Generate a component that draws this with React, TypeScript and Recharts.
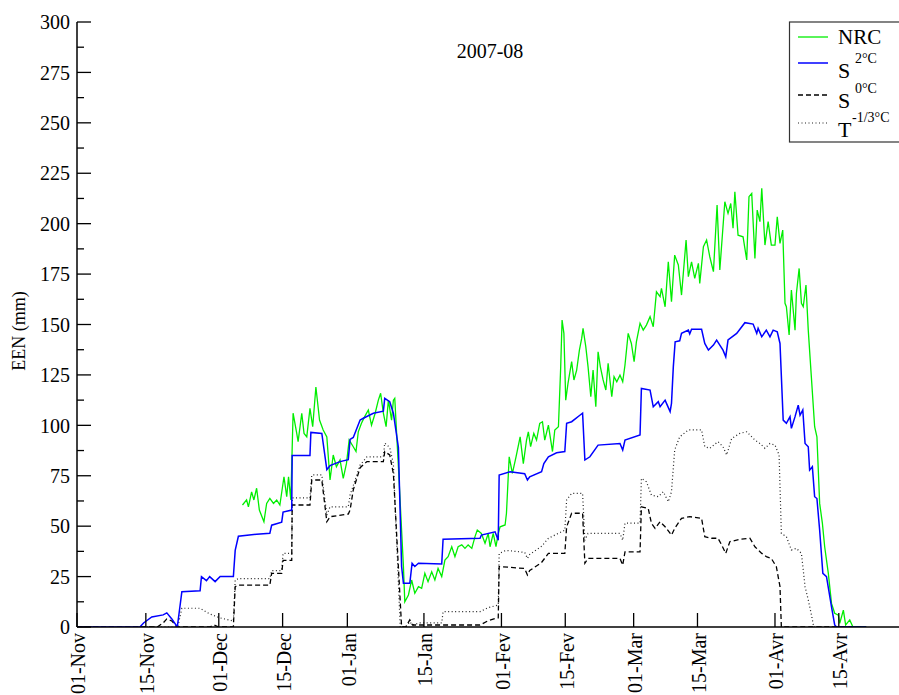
import React from 'react';
import { LineChart, Line, XAxis, YAxis } from 'recharts';

// x values are days counted from 01-Nov-2007
const X_TICK_DAYS = [-1.1, 14, 30, 44, 58.2, 75, 92, 106, 121, 135, 152, 166];
const X_TICK_LABELS = ['01-Nov', '15-Nov', '01-Dec', '15-Dec', '01-Jan', '15-Jan', '01-Fev', '15-Fev', '01-Mar', '15-Mar', '01-Avr', '15-Avr'];
const Y_TICKS = [0, 12.5, 25, 37.5, 50, 62.5, 75, 87.5, 100, 112.5, 125, 137.5, 150, 162.5, 175, 187.5, 200, 212.5, 225, 237.5, 250, 262.5, 275, 287.5, 300];
const Y_MAJOR_TICKS = [0, 25, 50, 75, 100, 125, 150, 175, 200, 225, 250, 275, 300];
const TITLE = '2007-08';
const Y_LABEL = 'EEN (mm)';

const NRC: [number, number][] = [
  [35.2, 60.5], [36.1, 63], [36.5, 59.6], [37.2, 67], [37.7, 63], [38.3, 68.8], [38.9, 58], [39.9, 52.2], [40.5, 61.3], [41.2, 63.8], [42, 61.3], [42.7, 63], [43.4, 60.5], [44.3, 74.5], [44.9, 64.6], [45.3, 74.5], [45.8, 63],
  [46.3, 106], [47.1, 96], [47.4, 91.9], [48.2, 106], [48.7, 96], [49.3, 94.3], [50, 108.4], [50.6, 99.3], [51.3, 119], [52.1, 102.6], [52.9, 97.7], [53.7, 94.3], [54.4, 72.9], [55.1, 85.3], [55.8, 79.5], [56.6, 82.8], [57.3, 73.7], [58, 81],
  [58.6, 92.7], [59.5, 89.4], [60.1, 87], [60.6, 96.8], [61.3, 101], [62, 104.3], [62.8, 107.6], [63.5, 100.1], [64.3, 106], [65, 112.5], [65.5, 115.9], [66.1, 106], [66.7, 99.3], [67.2, 112.5], [67.9, 102.6], [68.3, 112.5], [68.6, 113.4],
  [69.4, 79.5], [70.5, 30], [70.8, 12.5], [71.6, 15.9], [72.3, 23.3], [73, 16.7], [73.8, 20], [74.5, 19.2], [75.2, 26.6], [75.9, 22.5], [76.7, 27.4], [77.4, 23.3], [78.1, 29], [78.9, 25], [79.6, 33.2], [80.3, 34.9], [81.1, 39.8],
  [81.8, 34.9], [82.5, 39.8], [83.3, 40.7], [84, 39], [84.7, 40.7], [85.5, 39], [86.2, 44.8], [86.7, 48.1], [87.6, 46.4], [88.4, 41.5], [89.1, 46.4], [89.5, 39.8], [90.2, 46.4], [90.8, 39.8], [91.3, 46.4], [91.7, 49.7], [92.8, 50.6],
  [93.1, 56.4], [93.7, 84.4], [94.4, 76.2], [95.2, 84.4], [96.1, 94.3], [96.8, 81], [97.5, 92.7], [97.9, 96.8], [98.4, 89.4], [99.1, 96], [99.7, 92.7], [100.4, 101], [101, 101.8], [101.5, 92.7], [102.3, 100.1], [103.2, 87], [103.7, 97.7],
  [104.5, 99.3], [105, 129], [105.3, 152.2], [105.7, 145.6], [106.1, 112.5], [106.6, 120.8], [107.4, 131.6], [107.9, 122.5], [108.5, 127.4], [109.1, 137.3], [109.6, 143.1], [109.9, 148.1], [110.5, 139], [111, 129], [111.6, 114.2],
  [112.1, 127.4], [112.7, 109.2], [113.2, 136.5], [113.7, 129], [114.3, 122.5], [114.9, 117.5], [115.4, 130.7], [116.2, 114.2], [116.7, 124.1], [117.3, 121.6], [118, 124.9], [118.6, 121.6], [119.1, 129.9], [119.8, 145.6], [120.5, 140.6],
  [121.1, 131.6], [121.6, 141.4], [122.4, 150.6], [123.1, 147.2], [123.8, 149.7], [124.6, 153.9], [125.3, 148.9], [126, 166.2], [126.8, 163.8], [127.1, 167.9], [127.9, 158.8], [128.6, 181.1], [129.3, 161.3], [130, 184.4], [130.8, 179.5],
  [131.5, 164.6], [132.5, 191.9], [133, 173.7], [133.7, 181.1], [134.4, 172.9], [135.2, 180.3], [135.5, 170.4], [136.3, 188.6], [137, 191.9], [137.7, 183.6], [138.5, 176.2], [139.3, 209.2], [139.9, 177], [141, 210.9], [141.7, 205.1],
  [142.3, 210], [142.8, 197.7], [143.2, 215.8], [143.9, 194.3], [145, 193.5], [145.8, 182], [146.3, 213.4], [146.9, 215], [147.6, 182.8], [148.1, 206.7], [148.7, 201], [149.1, 217.5], [149.8, 189.4], [150.5, 201], [151.2, 189.4],
  [152, 189.4], [152.5, 203.4], [153.1, 190.2], [153.7, 196.8], [154.2, 160.5], [154.5, 158.8], [155.1, 144.8], [155.6, 167.1], [156.4, 147.2], [156.7, 165.4], [157.3, 177.8], [157.8, 160.5], [158.2, 158.8], [158.8, 169.6], [159.3, 147.2],
  [160, 123.3], [160.7, 99.3], [161.2, 94.3], [161.8, 61.3], [162.4, 51.4], [162.9, 39.8], [163.7, 26.6], [164.4, 11.7], [165.1, 6.8], [165.9, 5.9], [166.2, 1.8], [167, 8.4], [167.5, 1], [168.4, 3.5], [169.1, 0], [172, 0],
];

const S2: [number, number][] = [
  [-1.1, 0], [12.7, 0], [13.5, 2], [15.3, 5], [17.8, 6], [18.6, 7], [19.7, 4], [20.9, 0], [21.9, 17.5], [25.9, 18], [26.2, 25], [27.3, 23], [28, 25], [29.2, 22.5], [30.3, 25], [33.2, 25], [33.6, 38], [34.3, 45], [38.3, 46], [41.2, 46.5],
  [41.6, 50.5], [43.8, 52], [44.1, 57], [46, 58], [46.1, 85], [50, 85], [50.2, 96.5], [52.6, 96], [53.7, 78], [54.4, 80], [56.6, 82], [58.4, 83], [58.8, 93], [59.5, 94], [61, 102.6], [61.7, 103.5], [63.9, 106], [66.1, 107], [66.4, 113.4],
  [67.5, 111.7], [68.3, 106], [69.4, 89], [70.1, 30], [70.5, 21.7], [71.9, 21.7], [72.4, 31.6], [73, 30], [73.8, 31.6], [78.9, 31.2], [79.2, 43.5], [87.3, 44], [87.6, 45.6], [90.6, 47.2], [91.3, 43], [91.5, 75.4], [93.9, 77], [97.1, 76],
  [97.7, 72.9], [98.2, 74.5], [100.8, 77], [101.3, 81], [102.3, 84.4], [104.1, 86.4], [105.9, 87], [106.3, 101], [107.4, 101.8], [109.2, 105], [109.8, 106], [110.3, 82.8], [111.4, 84.4], [113.2, 90.2], [118, 91], [118.6, 87.7],
  [119.1, 92.7], [122.4, 95.2], [122.7, 118.3], [124.6, 117.5], [125.3, 109.2], [126.4, 111.7], [126.8, 109.2], [127.9, 112.5], [128.2, 110.9], [129, 106.8], [129.3, 110.9], [129.7, 129], [130.1, 141.4], [131.1, 141.9], [131.5, 145.6],
  [133, 147.2], [133.3, 145.3], [133.7, 147.6], [135.9, 147.6], [136.6, 140.6], [137.4, 137.3], [138.5, 139.8], [139.2, 142.3], [139.9, 139.8], [140.6, 137.3], [141.2, 134], [141.7, 142.3], [143.6, 145.6], [145.4, 150.9], [147.2, 150.2],
  [148, 145.6], [148.3, 148.1], [149.1, 143.9], [150.1, 147.2], [150.9, 143.9], [151.6, 147.2], [152.5, 146.4], [153.1, 140.6], [153.8, 102.6], [154.5, 101], [155.3, 104.3], [155.6, 98.5], [156.4, 104.3], [157.1, 110], [157.5, 105],
  [158.1, 107.6], [158.6, 91], [159.3, 89.4], [159.6, 77.8], [160.2, 79.5], [160.7, 64.6], [161.2, 63.7], [161.8, 48], [162.5, 26.6], [163.3, 25], [164.4, 10], [165.1, 1], [165.5, 0], [172, 0],
];

const S0: [number, number][] = [
  [-1.1, 0], [16.5, 0], [17.8, 2], [18.6, 4], [19.7, 3], [20.9, 0], [28, 0], [29, 1], [30, 0], [33.2, 0], [33.6, 20], [34.3, 20.8], [41.2, 20.8], [41.6, 26.6], [43.8, 26.6], [44.1, 33], [46, 33], [46.1, 60.5], [50, 60.5], [50.4, 72.9],
  [52.6, 72.9], [53.7, 52.2], [54.4, 54.7], [58.4, 56], [58.8, 58], [59.5, 68], [61, 79], [62.5, 82], [66.1, 82], [66.4, 87], [67.5, 85.3], [68.3, 76], [70.1, 0], [71, 0], [71.9, 3.5], [72.5, 1], [75, 1], [78.9, 1], [87.3, 1], [89, 3],
  [91, 4.5], [91.3, 4.5], [91.5, 30], [97.1, 29], [97.7, 25.8], [98.2, 28], [100.8, 32], [102.3, 36.5], [105.9, 36.5], [106.3, 49.7], [107.4, 56.4], [109.8, 56.4], [110.3, 31.6], [111, 34], [118, 34], [118.6, 30.7], [119.1, 37.3],
  [122.4, 37.3], [122.7, 59.6], [124.2, 58.8], [124.9, 51.4], [125.7, 48.9], [126.8, 52.2], [127.9, 49.7], [129.3, 45.6], [130, 48.9], [131.5, 53.9], [133.3, 54.7], [135.9, 53.9], [136.6, 44.8], [138.1, 44], [139.5, 44], [140.3, 40.7],
  [141.2, 36.5], [142.1, 42.3], [144.3, 43.5], [146.5, 44], [147.6, 39.8], [149.1, 36.5], [150.1, 34.9], [151.2, 34], [152.3, 29.9], [153.1, 20], [153.4, 0], [172, 0],
];

const T13: [number, number][] = [
  [-1.1, 0], [21, 0], [21.9, 9.3], [25.9, 9.3], [28, 6.5], [30.3, 4.5], [33.2, 3], [33.6, 23.3], [34.3, 24], [41.2, 24], [41.6, 28], [43.8, 28], [44.1, 36.5], [46, 36.5], [46.1, 64], [50, 64], [50.4, 75.4], [52.6, 75.4], [53.7, 55.5],
  [54.4, 59.6], [58.4, 59.6], [58.8, 65.4], [61, 80.3], [62.5, 84.4], [66.1, 84.4], [66.4, 91.2], [67.5, 89], [68.3, 81], [69.8, 0], [71, 0], [71.9, 2.6], [72.5, 1], [74, 2], [78.9, 2], [79.2, 7.6], [87.3, 7.6], [89, 9.5], [91.3, 10.9],
  [91.5, 36.5], [93, 38], [97.1, 37], [97.7, 34], [98.2, 36], [100.8, 40], [102.3, 44], [105.9, 48], [106.3, 63], [107.4, 66.3], [109.8, 66.3], [110.3, 43], [111, 46.4], [118, 46.4], [118.6, 43], [119.1, 51.5], [122.4, 51.5],
  [122.7, 73.7], [123.8, 72], [124.9, 65.4], [126.4, 64.6], [127.5, 67.1], [128.6, 62.1], [129.3, 67.1], [130, 87.8], [131.1, 94.3], [133, 97.7], [135.9, 97.7], [136.6, 89.4], [137.7, 88.6], [139.5, 91.9], [140.6, 89.4], [141.4, 85.3],
  [142.5, 93.5], [144.3, 96], [145.8, 96.8], [147.6, 92.7], [148.7, 91], [149.8, 88.6], [150.9, 91], [152, 90.2], [152.9, 85.3], [153.4, 46.4], [154.5, 44.8], [155.6, 38.2], [156.7, 39], [157.8, 36.5], [158.6, 20], [159.3, 13.4],
  [160, 6], [160.5, 0], [172, 0],
];

const toRows = (arr: [number, number][]) => arr.map(([d, v]) => ({ d, v }));

const FONT = "'Liberation Serif', 'Times New Roman', serif";

const BottomTick = (props: any) => {
  const { x, y, payload } = props;
  const i = X_TICK_DAYS.indexOf(payload.value);
  const label = i >= 0 ? X_TICK_LABELS[i] : '';
  const ty = y + 6;
  return (
    <g>
      <line x1={x} x2={x} y1={y} y2={y - 14} stroke="#000" strokeWidth={1.3} />
      <text x={x} y={ty} transform={`rotate(-90 ${x} ${ty})`} textAnchor="end" dy="0.42em" fontFamily={FONT} fontSize={20} fill="#000">
        {label}
      </text>
    </g>
  );
};

const TopTick = (props: any) => {
  const { x, y } = props;
  return <line x1={x} x2={x} y1={y} y2={y + 14} stroke="#000" strokeWidth={1.3} />;
};

const LeftTick = (props: any) => {
  const { x, y, payload } = props;
  const v = payload.value as number;
  const major = v % 25 === 0;
  return (
    <g>
      <line x1={x} x2={x + (major ? 14 : 7)} y1={y} y2={y} stroke="#000" strokeWidth={1.3} />
      {major && (
        <text x={x - 7} y={y} dy="0.36em" textAnchor="end" fontFamily={FONT} fontSize={20} fill="#000">
          {v}
        </text>
      )}
    </g>
  );
};

const RightTick = (props: any) => {
  const { x, y } = props;
  return <line x1={x} x2={x - 14} y1={y} y2={y} stroke="#000" strokeWidth={1.3} />;
};

const axisLine = { stroke: '#000', strokeWidth: 1.5 };

export default function App() {
  return (
    <div style={{ position: 'absolute', left: 0, top: 0, width: 899, height: 695, overflow: 'hidden', background: '#fff' }}>
      <LineChart width={907} height={760} margin={{ top: 22, right: 3, bottom: 0, left: 0 }}>
        <XAxis
          type="number"
          dataKey="d"
          domain={[-1.1, 180.3]}
          ticks={X_TICK_DAYS}
          interval={0}
          tickSize={0}
          tickMargin={0}
          tickLine={false}
          axisLine={axisLine}
          tick={BottomTick}
          height={133}
          allowDataOverflow
        />
        <XAxis
          xAxisId="top"
          orientation="top"
          type="number"
          dataKey="d"
          domain={[-1.1, 180.3]}
          ticks={X_TICK_DAYS.slice(1)}
          interval={0}
          tickSize={0}
          tickMargin={0}
          tickLine={false}
          axisLine={axisLine}
          tick={TopTick}
          height={0}
          allowDataOverflow
        />
        <YAxis
          type="number"
          domain={[0, 300]}
          ticks={Y_TICKS}
          interval={0}
          tickSize={0}
          tickMargin={0}
          tickLine={false}
          axisLine={axisLine}
          tick={LeftTick}
          width={77}
          allowDataOverflow
        />
        <YAxis
          yAxisId="right"
          orientation="right"
          type="number"
          domain={[0, 300]}
          ticks={Y_MAJOR_TICKS}
          interval={0}
          tickSize={0}
          tickMargin={0}
          tickLine={false}
          axisLine={axisLine}
          tick={RightTick}
          width={0}
          allowDataOverflow
        />
        <Line data={toRows(T13)} dataKey="v" type="linear" stroke="#222" strokeWidth={1.2} strokeDasharray="1 2.5" dot={false} activeDot={false} isAnimationActive={false} />
        <Line data={toRows(S0)} dataKey="v" type="linear" stroke="#000" strokeWidth={1.3} strokeDasharray="5 3" dot={false} activeDot={false} isAnimationActive={false} />
        <Line data={toRows(NRC)} dataKey="v" type="linear" stroke="#00ee00" strokeWidth={1.3} dot={false} activeDot={false} isAnimationActive={false} />
        <Line data={toRows(S2)} dataKey="v" type="linear" stroke="#0000ff" strokeWidth={1.5} dot={false} activeDot={false} isAnimationActive={false} />
      </LineChart>
      <svg width={899} height={695} style={{ position: 'absolute', left: 0, top: 0, pointerEvents: 'none' }}>
        <text x={490} y={58} textAnchor="middle" fontFamily={FONT} fontSize={20} fill="#000">{TITLE}</text>
        <text x={19} y={331} transform="rotate(-90 19 331)" textAnchor="middle" dy="0.35em" fontFamily={FONT} fontSize={18} fill="#000">{Y_LABEL}</text>
        <rect x={789.5} y={22} width={130} height={120} fill="#fff" stroke="#333" strokeWidth={1.2} />
        <line x1={798} x2={828} y1={37} y2={37} stroke="#00ee00" strokeWidth={1.3} />
        <text x={838} y={44} fontFamily={FONT} fontSize={21} fill="#000">NRC</text>
        <line x1={798} x2={828} y1={63} y2={63} stroke="#0000ff" strokeWidth={1.5} />
        <text x={838} y={78} fontFamily={FONT} fontSize={22} fill="#000">S</text>
        <text x={855} y={63} fontFamily={FONT} fontSize={14} fill="#000">2°C</text>
        <line x1={798} x2={828} y1={95} y2={95} stroke="#000" strokeWidth={1.3} strokeDasharray="5 3" />
        <text x={838} y={108} fontFamily={FONT} fontSize={22} fill="#000">S</text>
        <text x={855} y={93} fontFamily={FONT} fontSize={14} fill="#000">0°C</text>
        <line x1={798} x2={828} y1={123} y2={123} stroke="#222" strokeWidth={1.2} strokeDasharray="1 2.5" />
        <text x={838} y={137} fontFamily={FONT} fontSize={22} fill="#000">T</text>
        <text x={852} y={122} fontFamily={FONT} fontSize={14} fill="#000">-1/3°C</text>
      </svg>
    </div>
  );
}
